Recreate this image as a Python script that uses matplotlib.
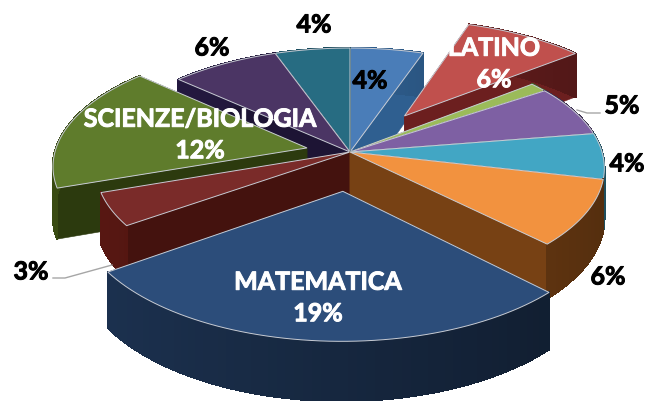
#imports
import matplotlib
matplotlib.use("Agg")
import matplotlib.pyplot as plt
import matplotlib.patheffects as pe
from matplotlib.collections import PolyCollection
import numpy as np
import colorsys
from matplotlib.colors import to_rgb

#data, clockwise from the top
names = ["", "LATINO", "", "", "", "", "MATEMATICA", "", "SCIENZE/BIOLOGIA", "", ""]
values = [3.7, 6.3, 0.9, 4.8, 4.3, 6.2, 19.4, 3.1, 11.9, 5.5, 3.8]
pct_labels = ["4%", "6%", "", "5%", "4%", "6%", "19%", "3%", "12%", "6%", "4%"]
explode = [0.0, 0.39, 0.0, 0.0, 0.0, 0.0, 0.32, 0.0, 0.175, 0.0, 0.0]

#colours
top_colors = ["#4a7db8", "#c0504d", "#9bbb59", "#7e60a3", "#42a6c4", "#f2923f",
              "#2c4d7a", "#7a2b29", "#5f7c2c", "#4b3564", "#276c82"]
side_colors = ["#2f5f90", "#6c1f1f", "#5c7030", "#4f3a6b", "#2a6f85", "#774114",
               "#16273f", "#44120e", "#2c3a0e", "#1d1434", "#19495a"]

#label places in pixels
text_pos = [(370, 81), (494, 64), None, (622, 106), (627, 164), (608, 277),
            (318, 298), (31, 272), (200, 135), (212, 48), (314, 25)]

#projection of the pie
cx, cy = 350, 152
rx, ry = 252, 118
persp = 0.135
height = 49


def project(u, v, z=0):
    s = 1 / (1 + persp * v)
    return cx + rx * u * s, cy - ry * v * s + height * s * z


def shade(col, f):
    h, l, s = colorsys.rgb_to_hls(*to_rgb(col))
    return colorsys.hls_to_rgb(h, min(1, l * f), s)


fig = plt.figure(figsize=(6.54, 4.01), dpi=100)
ax = fig.add_axes([0, 0, 1, 1])
ax.set_xlim(0, 654)
ax.set_ylim(401, 0)
ax.axis("off")

edges = np.concatenate([[0], np.cumsum(values)]) / np.sum(values) * 2 * np.pi
mids = (edges[:-1] + edges[1:]) / 2

# back slices first, front slices over them
order = np.argsort(-np.cos(mids))
for z, i in enumerate(order):
    a, b = edges[i], edges[i + 1]
    du = explode[i] * np.sin(mids[i])
    dv = explode[i] * np.cos(mids[i])
    t = np.linspace(a, b, 60)
    u = du + np.sin(t)
    v = dv + np.cos(t)

    # the two cut faces
    for j in [0, -1]:
        face = [project(du, dv), project(u[j], v[j]), project(u[j], v[j], 1), project(du, dv, 1)]
        ax.fill(*zip(*face), color=side_colors[i], lw=0.4, zorder=z * 3 + 1)

    # outer rim, lighter on the left, base fill stops seams between the strips
    quads = []
    cols = []
    for k in range(len(t) - 1):
        quads.append([project(u[k], v[k]), project(u[k + 1], v[k + 1]),
                      project(u[k + 1], v[k + 1], 1), project(u[k], v[k], 1)])
        cols.append(shade(side_colors[i], 1.0 - 0.3 * np.sin(t[k])))
    tx, ty = project(u, v)
    bx, by = project(u[::-1], v[::-1], 1)
    ax.fill(np.r_[tx, bx], np.r_[ty, by], color=side_colors[i], lw=0, zorder=z * 3 + 2)
    ax.add_collection(PolyCollection(quads, facecolors=cols, edgecolors=cols, linewidths=1.0,
                                     antialiaseds=False, zorder=z * 3 + 2))

    # top face
    px, py = project(np.r_[du, u], np.r_[dv, v])
    ax.fill(px, py, facecolor=top_colors[i], edgecolor="#c8ccd4", lw=0.7, zorder=z * 3 + 3)

# leader lines
ax.plot([600, 587, 577], [113, 113, 110], color="#a6a6a6", lw=1, zorder=90)
ax.plot([53, 65, 112], [278, 278, 265], color="#a6a6a6", lw=1, zorder=90)

# labels, stroke makes them as heavy as the reference
for i in range(len(values)):
    if text_pos[i] is None:
        continue
    x, y = text_pos[i]
    white = names[i] != ""
    if white:
        txt = names[i] + "\n" + pct_labels[i]
    else:
        txt = pct_labels[i]
    col = "white" if white else "black"
    ax.text(x, y, txt, color=col, family="Lato", weight="bold",
            fontsize=18, ha="center", va="center", linespacing=1.45, zorder=100,
            path_effects=[pe.withStroke(linewidth=0.7, foreground=col)])

fig.savefig("out.png", dpi=100)
